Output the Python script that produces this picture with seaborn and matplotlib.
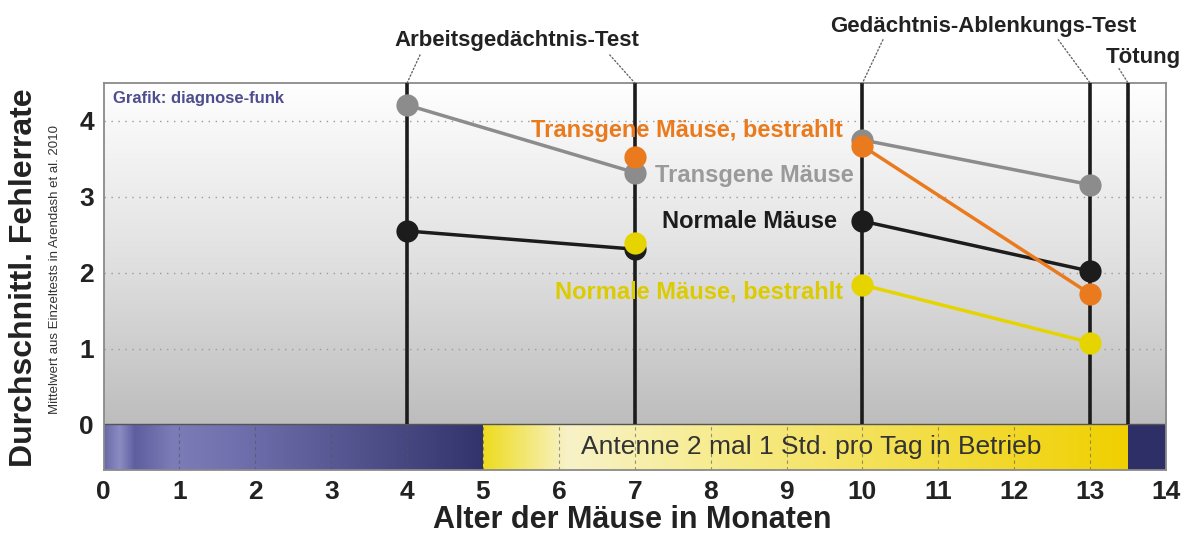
"""
Fehlerrate von Mäusen im Gedächtnistest (nach Arendash et al. 2010)
Nachbau der diagnose-funk Grafik mit seaborn
"""

import numpy as np
import pandas as pd
import matplotlib
matplotlib.use('Agg')
import matplotlib.pyplot as plt
from matplotlib.colors import LinearSegmentedColormap
import seaborn as sns

# Werte
months_all = [4, 7, 10, 13]
months_irr = [7, 10, 13]
transgene = [4.21, 3.32, 3.75, 3.16]
normale = [2.55, 2.31, 2.68, 2.02]
transgene_irr = [3.53, 3.67, 1.72]
normale_irr = [2.39, 1.84, 1.08]

test_months = [4, 7, 10, 13]
kill_month = 13.5
exposure_start = 5
exposure_end = 13.5
x_ticks = list(range(0, 15))
y_ticks = [0, 1, 2, 3, 4]

groups = ['Transgene Mäuse', 'Normale Mäuse',
          'Transgene Mäuse, bestrahlt', 'Normale Mäuse, bestrahlt']
palette = {'Transgene Mäuse': '#8c8c8c',
           'Normale Mäuse': '#1c1c1c',
           'Transgene Mäuse, bestrahlt': '#ea7a1e',
           'Normale Mäuse, bestrahlt': '#e6d400'}
text_colors = {'Transgene Mäuse': '#9a9a9a',
               'Normale Mäuse': '#1c1c1c',
               'Transgene Mäuse, bestrahlt': '#ea7a1e',
               'Normale Mäuse, bestrahlt': '#dccb00'}

# Long table; 'phase' splits the two test series so they aren't joined
rows = []
for name, months, vals in [(groups[0], months_all, transgene),
                           (groups[1], months_all, normale),
                           (groups[2], months_irr, transgene_irr),
                           (groups[3], months_irr, normale_irr)]:
    for m, v in zip(months, vals):
        rows.append({'group': name, 'month': m, 'rate': v,
                     'phase': 'A' if m <= 7 else 'B'})
df = pd.DataFrame(rows)

sns.set_style('white')
plt.rcParams['font.family'] = ['Liberation Sans', 'DejaVu Sans']

fig = plt.figure(figsize=(11.82, 5.4), dpi=100)
ax = fig.add_axes([0.0876, 0.1296, 0.8989, 0.7167])

ymin, ymax = -0.6, 4.5
xmin, xmax = 0, 14

# grey gradient background of the plot area
bg = LinearSegmentedColormap.from_list('bg', ['#bdbdbd', '#e2e2e2', '#ffffff'])
ax.imshow(np.linspace(0, 1, 256).reshape(-1, 1), cmap=bg, origin='lower',
          extent=[xmin, xmax, 0, ymax], aspect='auto', zorder=0)

# time bar: no exposure / antenna on / after kill
blue = LinearSegmentedColormap.from_list(
    'blue', [(0, '#6a6aa8'), (0.04, '#8c8cc4'), (0.08, '#5e5ea0'),
             (0.18, '#7c7cb8'), (0.35, '#7070ae'), (1, '#33336c')])
yellow = LinearSegmentedColormap.from_list(
    'yellow', [(0, '#eedc20'), (0.13, '#f8f2c8'), (0.35, '#f7ec90'),
               (1, '#f0d000')])
grad = np.linspace(0, 1, 256).reshape(1, -1)
ax.imshow(grad, cmap=blue, extent=[xmin, exposure_start, ymin, 0],
          aspect='auto', zorder=1)
ax.imshow(grad, cmap=yellow, extent=[exposure_start, exposure_end, ymin, 0],
          aspect='auto', zorder=1)
ax.axvspan(exposure_end, xmax, ymin=0, ymax=0.6 / (ymax - ymin),
           color='#2f2f68', zorder=1, lw=0)
ax.vlines(x_ticks[1:-1], ymin, 0, colors='#555555', linestyles=(0, (3, 3)),
          lw=0.8, alpha=0.6, zorder=2)
ax.axhline(0, color='#555555', lw=1, zorder=2)
ax.text((exposure_start + exposure_end) / 2 + 0.07, -0.3,
        'Antenne 2 mal 1 Std. pro Tag in Betrieb',
        ha='center', va='center', fontsize=19, color='#333333', zorder=3)

# dotted horizontal grid
for y in y_ticks[1:]:
    ax.axhline(y, color='#9a9a9a', lw=1, ls=(0, (1, 4)), zorder=1)

# test dates and kill date
ax.vlines(test_months + [kill_month], 0, ymax, colors='#1c1c1c', lw=2.6,
          zorder=3)

sns.lineplot(data=df, x='month', y='rate', hue='group', units='phase',
             estimator=None, hue_order=groups, palette=palette, marker='o',
             markersize=16, markeredgewidth=0, linewidth=2.5, legend=False,
             sort=False, ax=ax, zorder=5)

# series labels
ax.text(9.74, 3.87, groups[2], ha='right', va='center', fontsize=17,
        fontweight='bold', color=text_colors[groups[2]], zorder=6)
ax.text(7.27, 3.28, groups[0], ha='left', va='center', fontsize=17,
        fontweight='bold', color=text_colors[groups[0]], zorder=6)
ax.text(9.66, 2.68, groups[1], ha='right', va='center', fontsize=17,
        fontweight='bold', color=text_colors[groups[1]], zorder=6)
ax.text(9.74, 1.74, groups[3], ha='right', va='center', fontsize=17,
        fontweight='bold', color=text_colors[groups[3]], zorder=6)

ax.text(0.12, 4.3, 'Grafik: diagnose-funk', ha='left', va='center',
        fontsize=12, fontweight='bold', color='#4d4d8f', zorder=6)

# test annotations above the plot with dotted leaders
tests = [('Arbeitsgedächtnis-Test', 5.45, 5.06, [(4.17, 4.87), (6.67, 4.87)], [4, 7]),
         ('Gedächtnis-Ablenkungs-Test', 11.59, 5.24, [(10.27, 5.07), (12.58, 5.07)], [10, 13]),
         ('Tötung', 13.2, 4.83, [(13.38, 4.69)], [kill_month])]
for label, tx, ty, starts, ends in tests:
    ax.text(tx, ty, label, ha='left' if label == 'Tötung' else 'center',
            va='center', fontsize=16, fontweight='bold', color='#222222',
            clip_on=False)
    for (sx, sy), m in zip(starts, ends):
        ax.annotate('', xy=(m, ymax), xytext=(sx, sy), annotation_clip=False,
                    arrowprops=dict(arrowstyle='-', ls=':', color='#666666',
                                    lw=1, shrinkA=0, shrinkB=0))

ax.set_xlim(xmin, xmax)
ax.set_ylim(ymin, ymax)
ax.set_xticks(x_ticks)
ax.set_yticks(y_ticks)
ax.tick_params(length=0, labelsize=19, pad=7)
for lab in ax.get_xticklabels() + ax.get_yticklabels():
    lab.set_fontweight('bold')
    lab.set_color('#222222')
ax.set_xlabel('')
ax.set_ylabel('')
for sp in ax.spines.values():
    sp.set_color('#8a8a8a')
    sp.set_linewidth(1.3)

fig.text(632 / 1182, 1 - 520 / 540, 'Alter der Mäuse in Monaten',
         ha='center', va='center', fontsize=22, fontweight='bold',
         color='#222222')
fig.text(24 / 1182, 1 - 278 / 540, 'Durchschnittl. Fehlerrate',
         ha='center', va='center', rotation=90, fontsize=23,
         fontweight='bold', color='#222222')
fig.text(55 / 1182, 1 - 270 / 540,
         'Mittelwert aus Einzeltests in Arendash et al. 2010',
         ha='center', va='center', rotation=90, fontsize=9.5, color='#333333')

plt.savefig('out.png', dpi=100)
